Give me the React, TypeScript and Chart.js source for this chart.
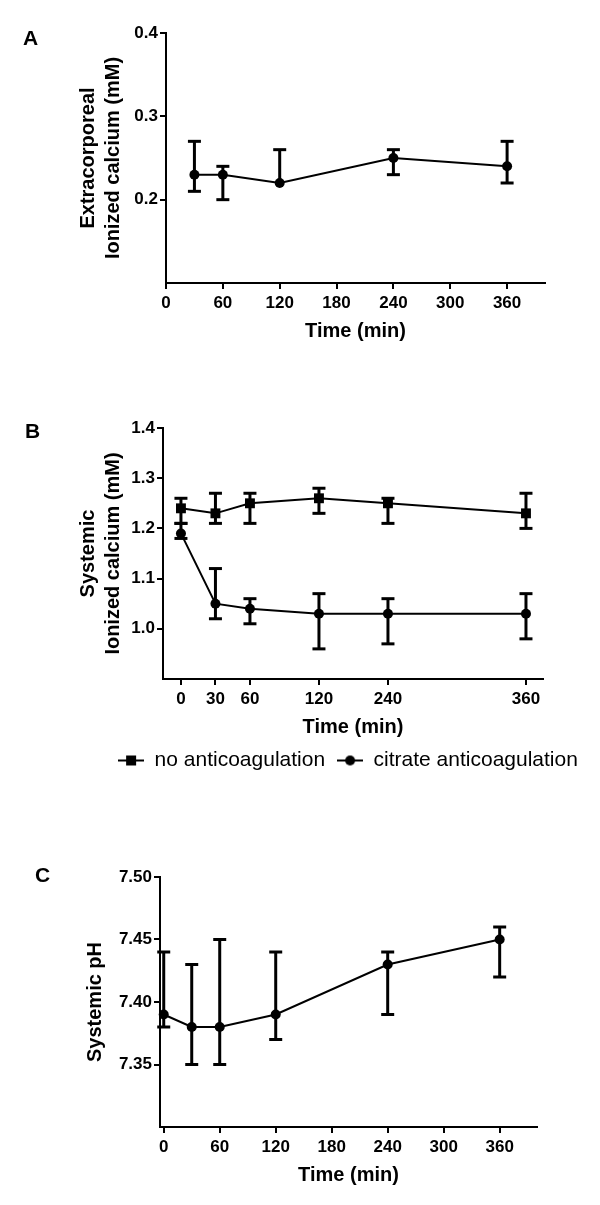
import React, { useEffect, useRef } from 'react';
import { Chart, registerables } from 'chart.js';

Chart.register(...registerables);

const FONT = '"Liberation Sans", Arial, Helvetica, sans-serif';

// ---------- Panel A: extracorporeal ionized calcium ----------
const timesA = [30, 60, 120, 240, 360];
const calciumA = [0.23, 0.23, 0.22, 0.25, 0.24];
const calciumALow = [0.21, 0.2, 0.22, 0.23, 0.22];
const calciumAHigh = [0.27, 0.24, 0.26, 0.26, 0.27];
const xTicksA = [0, 60, 120, 180, 240, 300, 360];
const yTicksA = [0.2, 0.3, 0.4];

// ---------- Panel B: systemic ionized calcium ----------
const timesB = [0, 30, 60, 120, 240, 360];
const noAnticoag = [1.24, 1.23, 1.25, 1.26, 1.25, 1.23];
const noAnticoagLow = [1.21, 1.21, 1.21, 1.23, 1.21, 1.2];
const noAnticoagHigh = [1.26, 1.27, 1.27, 1.28, 1.26, 1.27];
const citrate = [1.19, 1.05, 1.04, 1.03, 1.03, 1.03];
const citrateLow = [1.18, 1.02, 1.01, 0.96, 0.97, 0.98];
const citrateHigh = [1.21, 1.12, 1.06, 1.07, 1.06, 1.07];
const xTicksB = [0, 30, 60, 120, 240, 360];
const yTicksB = [1.0, 1.1, 1.2, 1.3, 1.4];

// ---------- Panel C: systemic pH ----------
const timesC = [0, 30, 60, 120, 240, 360];
const phC = [7.39, 7.38, 7.38, 7.39, 7.43, 7.45];
const phCLow = [7.38, 7.35, 7.35, 7.37, 7.39, 7.42];
const phCHigh = [7.44, 7.43, 7.45, 7.44, 7.44, 7.46];
const xTicksC = [0, 60, 120, 180, 240, 300, 360];
const yTicksC = [7.35, 7.4, 7.45, 7.5];

const legendLabels = ['no anticoagulation', 'citrate anticoagulation'];
const xTitle = 'Time (min)';
const yTitleA = ['Extracorporeal', 'Ionized calcium (mM)'];
const yTitleB = ['Systemic', 'Ionized calcium (mM)'];
const yTitleC = 'Systemic pH';

// Panel B uses a segmented time axis (0-120 full, 120-240 compressed, 240-360 full)
const warpB = (t: number) => (t <= 120 ? t : t <= 240 ? 120 + (t - 120) / 2 : 180 + (t - 240));

const errorBarPlugin = {
  id: 'errorBars',
  beforeDatasetsDraw(chart: any) {
    const ctx = chart.ctx;
    const yScale = chart.scales.y;
    ctx.save();
    ctx.strokeStyle = '#000';
    ctx.lineWidth = 3;
    ctx.lineCap = 'butt';
    chart.data.datasets.forEach((ds: any, di: number) => {
      if (!ds.errLow) return;
      const meta = chart.getDatasetMeta(di);
      meta.data.forEach((pt: any, j: number) => {
        const mean = ds.data[j].y;
        const lo = ds.errLow[j];
        const hi = ds.errHigh[j];
        const x = pt.x;
        const yLo = yScale.getPixelForValue(lo);
        const yHi = yScale.getPixelForValue(hi);
        ctx.beginPath();
        ctx.moveTo(x, yLo);
        ctx.lineTo(x, yHi);
        ctx.stroke();
        const half = 6.5;
        if (hi > mean) {
          ctx.beginPath();
          ctx.moveTo(x - half, yHi);
          ctx.lineTo(x + half, yHi);
          ctx.stroke();
        }
        if (lo < mean) {
          ctx.beginPath();
          ctx.moveTo(x - half, yLo);
          ctx.lineTo(x + half, yLo);
          ctx.stroke();
        }
      });
    });
    ctx.restore();
  },
};

function series(xs: number[], ys: number[], lo: number[], hi: number[], style: string, radius: number, xMap = (v: number) => v) {
  return {
    data: xs.map((x, i) => ({ x: xMap(x), y: ys[i] })),
    errLow: lo,
    errHigh: hi,
    borderColor: '#000',
    borderWidth: 2,
    pointStyle: style,
    pointRadius: radius,
    pointHoverRadius: radius,
    pointBackgroundColor: '#000',
    pointBorderColor: '#000',
    pointBorderWidth: 0,
    tension: 0,
    fill: false,
    clip: false,
  };
}

interface PanelOpts {
  datasets: any[];
  xMin: number;
  xMax: number;
  xTickValues: number[];
  xLabel: (v: number, i: number) => string;
  yMin: number;
  yMax: number;
  yTickValues: number[];
  yDecimals: number;
  yTitle: string | string[];
  yTitlePad: number;
  yWidth: number;
  padding: { top: number; right: number; bottom: number; left: number };
}

function panelConfig(o: PanelOpts): any {
  const tickFont = { family: FONT, size: 17, weight: 'bold' as const };
  const titleFont = { family: FONT, size: 20, weight: 'bold' as const, lineHeight: 1.25 };
  return {
    type: 'line',
    data: { datasets: o.datasets },
    plugins: [errorBarPlugin],
    options: {
      animation: false,
      responsive: false,
      devicePixelRatio: 1,
      layout: { padding: o.padding },
      plugins: { legend: { display: false }, tooltip: { enabled: false } },
      scales: {
        x: {
          type: 'linear',
          min: o.xMin,
          max: o.xMax,
          afterBuildTicks: (s: any) => {
            s.ticks = o.xTickValues.map((v) => ({ value: v }));
          },
          afterFit: (s: any) => {
            s.height = 60;
          },
          ticks: {
            autoSkip: false,
            maxRotation: 0,
            color: '#000',
            font: tickFont,
            padding: 4,
            callback: (v: number, i: number) => o.xLabel(v, i),
          },
          grid: { drawOnChartArea: false, drawTicks: true, tickLength: 6, color: '#000', lineWidth: 2 },
          border: { display: true, color: '#000', width: 2 },
          title: { display: true, text: xTitle, color: '#000', font: { family: FONT, size: 20, weight: 'bold' }, padding: { top: 0, bottom: 0 } },
        },
        y: {
          type: 'linear',
          min: o.yMin,
          max: o.yMax,
          afterBuildTicks: (s: any) => {
            s.ticks = o.yTickValues.map((v) => ({ value: v }));
          },
          afterFit: (s: any) => {
            s.width = o.yWidth;
          },
          ticks: {
            color: '#000',
            font: tickFont,
            padding: 2,
            callback: (v: number) => Number(v).toFixed(o.yDecimals),
          },
          grid: { drawOnChartArea: false, drawTicks: true, tickLength: 6, color: '#000', lineWidth: 2 },
          border: { display: true, color: '#000', width: 2 },
          title: { display: true, text: o.yTitle, color: '#000', font: titleFont, padding: { top: o.yTitlePad, bottom: 0 } },
        },
      },
    },
  };
}

function makeIcon(kind: 'square' | 'circle') {
  const c = document.createElement('canvas');
  c.width = 26;
  c.height = 12;
  const ctx = c.getContext('2d')!;
  ctx.strokeStyle = '#000';
  ctx.fillStyle = '#000';
  ctx.lineWidth = 2;
  ctx.beginPath();
  ctx.moveTo(0, 6);
  ctx.lineTo(26, 6);
  ctx.stroke();
  if (kind === 'square') {
    ctx.fillRect(8, 1, 10, 10);
  } else {
    ctx.beginPath();
    ctx.arc(13, 6, 5, 0, Math.PI * 2);
    ctx.fill();
  }
  return c;
}

const letterStyle: React.CSSProperties = {
  position: 'absolute',
  fontFamily: FONT,
  fontWeight: 'bold',
  fontSize: 21,
  lineHeight: '21px',
  color: '#000',
  margin: 0,
};

export default function App() {
  const refA = useRef<HTMLCanvasElement>(null);
  const refB = useRef<HTMLCanvasElement>(null);
  const refC = useRef<HTMLCanvasElement>(null);
  const refL = useRef<HTMLCanvasElement>(null);

  useEffect(() => {
    const charts: Chart[] = [];

    charts.push(
      new Chart(
        refA.current!,
        panelConfig({
          datasets: [series(timesA, calciumA, calciumALow, calciumAHigh, 'circle', 5)],
          xMin: 0,
          xMax: 400,
          xTickValues: xTicksA,
          xLabel: (v) => String(v),
          yMin: 0.1,
          yMax: 0.4,
          yTickValues: yTicksA,
          yDecimals: 1,
          yTitle: yTitleA,
          yTitlePad: 75.5,
          yWidth: 166,
          padding: { top: 33, right: 55, bottom: 27, left: 0 },
        })
      )
    );

    charts.push(
      new Chart(
        refB.current!,
        panelConfig({
          datasets: [
            series(timesB, noAnticoag, noAnticoagLow, noAnticoagHigh, 'rect', 7, warpB),
            series(timesB, citrate, citrateLow, citrateHigh, 'circle', 5, warpB),
          ],
          xMin: -15.6,
          xMax: 314.8,
          xTickValues: xTicksB.map(warpB),
          xLabel: (_v, i) => String(xTicksB[i]),
          yMin: 0.9,
          yMax: 1.4,
          yTickValues: yTicksB,
          yDecimals: 1,
          yTitle: yTitleB,
          yTitlePad: 75.5,
          yWidth: 163,
          padding: { top: 48, right: 57, bottom: 11, left: 0 },
        })
      )
    );

    charts.push(
      new Chart(
        refC.current!,
        panelConfig({
          datasets: [series(timesC, phC, phCLow, phCHigh, 'circle', 5)],
          xMin: -4,
          xMax: 400,
          xTickValues: xTicksC,
          xLabel: (v) => String(v),
          yMin: 7.3,
          yMax: 7.5,
          yTickValues: yTicksC,
          yDecimals: 2,
          yTitle: yTitleC,
          yTitlePad: 82.5,
          yWidth: 160,
          padding: { top: 37, right: 63, bottom: 18, left: 0 },
        })
      )
    );

    const icons = [makeIcon('square'), makeIcon('circle')];
    charts.push(
      new Chart(refL.current!, {
        type: 'line',
        data: {
          datasets: legendLabels.map((label, i) => ({
            label,
            data: [],
            borderColor: '#000',
            backgroundColor: '#000',
            borderWidth: 2,
            pointStyle: icons[i] as any,
          })),
        },
        options: {
          animation: false,
          responsive: false,
          devicePixelRatio: 1,
          layout: { padding: 0 },
          scales: { x: { display: false }, y: { display: false } },
          plugins: {
            tooltip: { enabled: false },
            legend: {
              display: true,
              position: 'top',
              labels: {
                usePointStyle: true,
                pointStyleWidth: 26,
                boxHeight: 12,
                padding: 12,
                color: '#000',
                font: { family: FONT, size: 21 },
              },
            },
          },
        },
      } as any)
    );

    return () => charts.forEach((c) => c.destroy());
  }, []);

  const cv = (top: number, left: number, w: number, h: number): React.CSSProperties => ({
    position: 'absolute',
    top,
    left,
    width: w,
    height: h,
    display: 'block',
  });

  return (
    <div style={{ position: 'absolute', left: 0, top: 0, width: 600, height: 1205, background: '#fff', overflow: 'hidden' }}>
      <canvas ref={refA} width={600} height={370} style={cv(0, 0, 600, 370)} />
      <canvas ref={refB} width={600} height={370} style={cv(380, 0, 600, 370)} />
      <canvas ref={refL} width={504} height={90} style={cv(738, 96, 504, 90)} />
      <canvas ref={refC} width={600} height={365} style={cv(840, 0, 600, 365)} />
      <div style={{ ...letterStyle, left: 23, top: 27 }}>A</div>
      <div style={{ ...letterStyle, left: 25, top: 420 }}>B</div>
      <div style={{ ...letterStyle, left: 35, top: 864 }}>C</div>
    </div>
  );
}
